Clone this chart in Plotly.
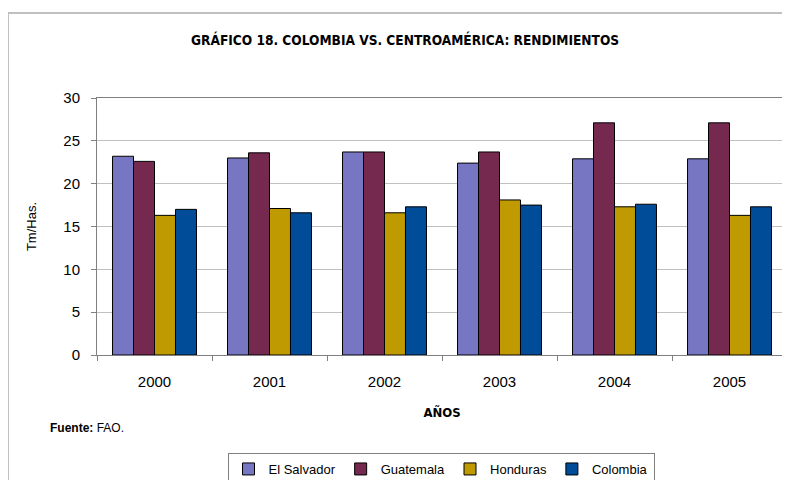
import plotly.graph_objects as go

# Rendimientos (Tm/Has.)
anios = ["2000", "2001", "2002", "2003", "2004", "2005"]
el_salvador = [23.2, 23.0, 23.7, 22.4, 22.9, 22.9]
guatemala = [22.6, 23.6, 23.7, 23.7, 27.1, 27.1]
honduras = [16.3, 17.1, 16.6, 18.1, 17.3, 16.3]
colombia = [17.0, 16.6, 17.3, 17.5, 17.6, 17.3]

paises = ["El Salvador", "Guatemala", "Honduras", "Colombia"]
colores = ["#7676c2", "#76294f", "#bf9a00", "#004c99"]

# the page body adds an 8px margin, so the figure is laid out 8px smaller
OFF = 8
W, H = 790 - OFF, 480 - OFF
L, T = 97 - OFF, 98 - OFF
R = W - (787 - OFF)
B = H - (355 - OFF)
narrow = "DejaVu Sans Condensed, Liberation Sans Narrow, sans-serif"
arial = "Liberation Sans, Arial, sans-serif"


def px_x(p):
    return (p - OFF - L) / (W - L - R)


def px_y(p):
    return (H - B - (p - OFF)) / (H - T - B)


fig = go.Figure()
for nombre, vals, col in zip(paises, [el_salvador, guatemala, honduras, colombia], colores):
    fig.add_trace(go.Bar(x=anios, y=vals, name=nombre,
                         marker=dict(color=col, line=dict(color="black", width=1))))

fig.update_layout(
    width=W, height=H,
    margin=dict(l=L, r=R, t=T, b=B, autoexpand=False),
    paper_bgcolor="white", plot_bgcolor="white",
    barmode="group", bargap=0.27, bargroupgap=0,
    font=dict(family=arial, color="black"),
    showlegend=True,
    legend=dict(orientation="h", x=px_x(441), xanchor="center", xref="paper",
                y=px_y(453), yanchor="top",
                bordercolor="#808080", borderwidth=1,
                font=dict(family=arial, size=13), itemwidth=30,
                tracegroupgap=0),
)

fig.update_yaxes(range=[0, 30], dtick=5, showgrid=True, gridcolor="#c0c0c0", gridwidth=1,
                 showline=True, linecolor="#808080", linewidth=1, mirror=True,
                 ticks="outside", ticklen=5, tickcolor="#808080", ticklabelstandoff=8,
                 tickfont=dict(family=arial, size=15), zeroline=False,
                 title=dict(text="Tm/Has.", font=dict(family=arial, size=13), standoff=23))
fig.update_xaxes(showline=True, linecolor="#808080", linewidth=1, mirror=True,
                 ticks="outside", ticklen=5, tickcolor="#808080", tickson="boundaries",
                 ticklabelstandoff=13,
                 tickfont=dict(family=arial, size=15),
                 title=dict(text="<b>AÑOS</b>", font=dict(family=narrow, size=13), standoff=18))

fig.add_annotation(text="<b>GRÁFICO 18. COLOMBIA VS. CENTROAMÉRICA: RENDIMIENTOS</b>",
                   xref="paper", yref="paper", x=px_x(405), y=px_y(40),
                   xanchor="center", yanchor="middle", showarrow=False,
                   font=dict(family=narrow, size=13.6))
fig.add_annotation(text="<b>Fuente:</b> FAO.",
                   xref="paper", yref="paper", x=px_x(48), y=px_y(428),
                   xanchor="left", yanchor="middle", showarrow=False,
                   font=dict(family=arial, size=12))

# outer chart frame
fig.add_shape(type="rect", xref="paper", yref="paper",
              x0=px_x(8), x1=px_x(800), y0=px_y(490), y1=px_y(13),
              line=dict(color="#c0c0c0", width=2), layer="below")

fig.write_html("out.html")
